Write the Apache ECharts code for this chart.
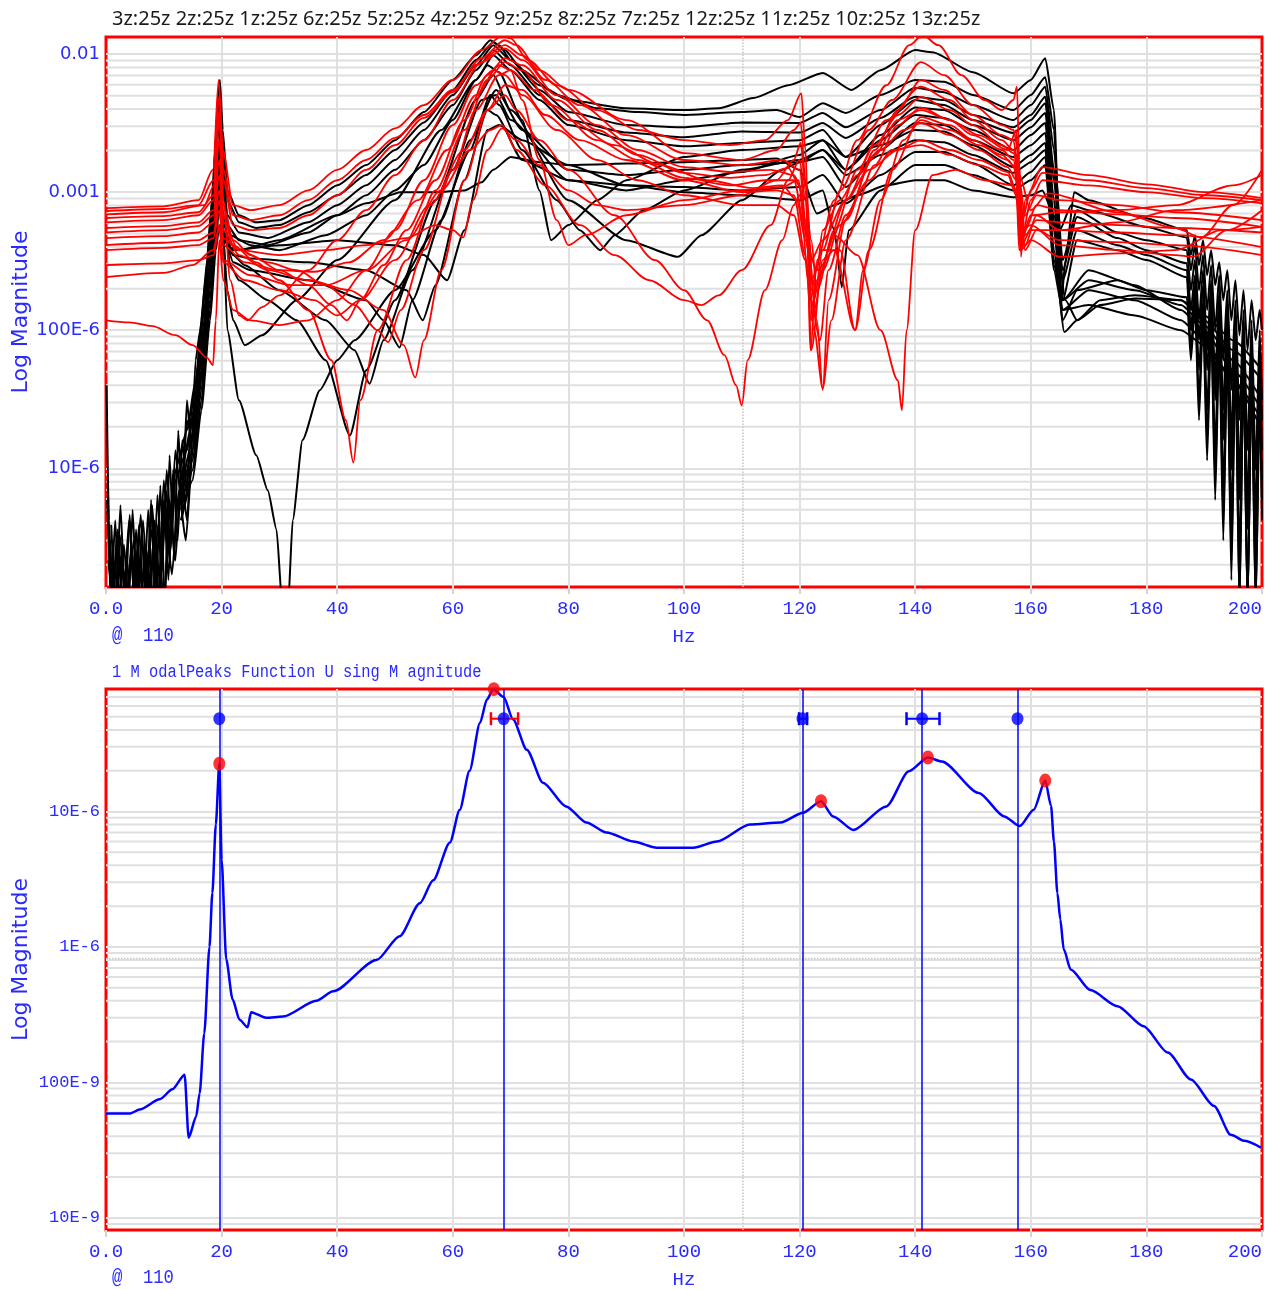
<!DOCTYPE html>
<html><head><meta charset="utf-8">
<script src="https://cdn.jsdelivr.net/npm/echarts@6/dist/echarts.min.js"></script>
<style>html,body{margin:0;padding:0;background:#fff}#c{width:1275px;height:1290px}</style>
</head><body><div id="c"></div>
<script>
// ---------- categories / tick labels ----------
const responseLabels = ['3z:25z','2z:25z','1z:25z','6z:25z','5z:25z','4z:25z','9z:25z','8z:25z','7z:25z','12z:25z','11z:25z','10z:25z','13z:25z'];
const topDecades = [1e-5, 1e-4, 1e-3, 1e-2];
const topDecadeLabels = ['10E-6', '100E-6', '0.001', '0.01'];
const bottomDecades = [1e-8, 1e-7, 1e-6, 1e-5];
const bottomDecadeLabels = ['10E-9', '100E-9', '1E-6', '10E-6'];
const cursorHz = 110.2;
const bottomRefLevel = 8.2e-7;

// ---------- measured FRFs (black) ----------
const m01 = [[0.3,8.2e-6],[0.8,1e-6],[1.6,4.2e-6],[2.3,1e-6],[3.1,2.8e-6],[3.9,1e-6],[4.6,5.0e-6],[5.4,1e-6],[6.2,3.3e-6],[7,1e-6],[7.8,5.9e-6],[8.6,1e-6],[9.4,7.5e-6],[10.2,1e-6],[11,1.24e-5],[11.8,2.15e-6],[12.5,1.88e-5],[13.2,5.0e-6],[14,3.11e-5],[14.8,1.35e-5],[15.5,6.06e-5],[16.3,1.0e-4],[17.2,2.3e-4],[18.2,7.4e-4],[18.9,2.02e-3],[19.4,5.05e-3],[19.7,6.5e-3],[20.2,2.82e-3],[21,1.03e-3],[23,6.8e-4],[26,6.05e-4],[30,6.27e-4],[35,8.05e-4],[40,1.12e-3],[45,1.57e-3],[50,2.38e-3],[55,3.8e-3],[60,6.5e-3],[64,9.8e-3],[66.5,1.26e-2],[68,1.16e-2],[70,9.05e-3],[75,5.95e-3],[80,4.65e-3],[90,4.05e-3],[100,3.93e-3],[106,4.05e-3],[112,4.8e-3],[118,5.95e-3],[124,7.3e-3],[129,5.5e-3],[134,7.65e-3],[140,1.07e-2],[143,1.03e-2],[150,7.4e-3],[157,5.2e-3],[160,6.5e-3],[162.5,9.35e-3],[164,3.93e-3],[165.3,1.65e-4],[166,3.22e-4],[167.5,1.0e-3],[170,8.75e-4],[179,6.6e-4],[187,5.3e-4],[187.7,3.5e-4],[188.4,4.88e-4],[189.1,2.96e-4],[189.8,4.49e-4],[190.5,2.5e-4],[191.2,3.8e-4],[191.9,2.12e-4],[192.6,3.1e-4],[193.3,1.65e-4],[194,2.72e-4],[194.7,1.18e-4],[195.4,2.3e-4],[196.1,9.2e-5],[196.8,1.95e-4],[197.5,7.16e-5],[198.2,1.65e-4],[198.9,8.46e-5],[199.6,1.4e-4],[200,1.0e-4]];
const m02 = [[0.1,4.0e-5],[0.5,4.2e-6],[1.2,1e-6],[2,3.0e-6],[2.8,1e-6],[3.6,2.15e-6],[4.4,1e-6],[5.2,3.6e-6],[6,1e-6],[6.8,2.8e-6],[7.6,1e-6],[8.4,4.2e-6],[9.2,1e-6],[10,5.9e-6],[10.8,1.55e-6],[11.6,9.7e-6],[12.4,3.0e-6],[13.2,1.6e-5],[14,6.9e-6],[14.8,2.63e-5],[15.6,4.34e-5],[16.5,1.18e-4],[17.5,3.22e-4],[18.5,1.03e-3],[19.2,3.33e-3],[19.6,5.5e-3],[20.1,2.38e-3],[21,8.75e-4],[23,6.05e-4],[26,5.5e-4],[30,5.77e-4],[35,7.15e-4],[40,9.5e-4],[45,1.33e-3],[50,2.02e-3],[55,3.2e-3],[60,5.5e-3],[64,9.05e-3],[67,1.22e-2],[69,1.07e-2],[72,7.65e-3],[78,5.05e-3],[85,4.05e-3],[92,3.8e-3],[100,3.62e-3],[110,3.8e-3],[116,3.93e-3],[120,3.5e-3],[124,4.4e-3],[128,3.75e-3],[134,5.05e-3],[140,6.5e-3],[145,6.3e-3],[150,5.05e-3],[157,3.93e-3],[160,5.05e-3],[162.5,6.8e-3],[164,2.82e-3],[165,5.3e-4],[167,8.05e-4],[170,7.4e-4],[180,5.6e-4],[187,4.7e-4],[187.7,2.72e-4],[188.4,4.13e-4],[189.1,1.95e-4],[189.8,3.5e-4],[190.5,1.4e-4],[191.2,2.96e-4],[191.9,1.0e-4],[192.6,2.5e-4],[193.3,6.06e-5],[194,1.95e-4],[194.7,3.68e-5],[195.4,1.65e-4],[196.1,2.23e-5],[196.8,1.4e-4],[197.5,1.35e-5],[198.2,1.18e-4],[198.9,9.7e-6],[199.6,1.0e-4],[200,3.11e-5]];
const m03 = [[0.4,2.15e-6],[1.4,1e-6],[2.6,2.3e-6],[3.6,1e-6],[4.8,3.0e-6],[5.8,1e-6],[7,2.55e-6],[8,1e-6],[9,3.9e-6],[10,1e-6],[11,5.9e-6],[12,2.15e-6],[13,9.7e-6],[14,4.2e-6],[15,1.88e-5],[16,4.34e-5],[17,1.18e-4],[18,3.8e-4],[18.8,1.22e-3],[19.5,3.93e-3],[20.1,1.71e-3],[21,6.8e-4],[23,5.1e-4],[28,4.65e-4],[35,6.05e-4],[40,8.05e-4],[45,1.12e-3],[50,1.71e-3],[55,2.82e-3],[60,5.05e-3],[64,8.3e-3],[67,1.16e-2],[70,9.05e-3],[75,5.5e-3],[80,3.8e-3],[90,3.06e-3],[100,2.95e-3],[110,3.2e-3],[120,3.17e-3],[124,3.75e-3],[128,2.95e-3],[134,3.93e-3],[140,5.7e-3],[145,5.3e-3],[150,4.27e-3],[157,3.33e-3],[160,4.27e-3],[162.5,5.8e-3],[164,2.02e-3],[165.5,3.22e-4],[168,7.4e-4],[175,5.1e-4],[180,4.49e-4],[187,3.8e-4],[187.7,1.95e-4],[188.4,3.22e-4],[189.1,1.18e-4],[189.8,2.72e-4],[190.5,7.16e-5],[191.2,2.3e-4],[191.9,4.34e-5],[192.6,1.95e-4],[193.3,2.63e-5],[194,1.65e-4],[194.7,1.6e-5],[195.4,1.4e-4],[196.1,8.2e-6],[196.8,1.18e-4],[197.5,5.0e-6],[198.2,1.0e-4],[198.9,4.2e-6],[199.6,8.46e-5],[200,2.23e-5]];
const m04 = [[0.6,3.0e-6],[1.8,1e-6],[3,1.83e-6],[4.2,1e-6],[5.4,2.55e-6],[6.6,1e-6],[7.8,3.6e-6],[9,1e-6],[10.2,5.0e-6],[11.4,1.7e-6],[12.6,6.9e-6],[13.8,3.0e-6],[15,1.35e-5],[16,3.11e-5],[17,8.46e-5],[18,2.72e-4],[18.8,8.75e-4],[19.5,3.33e-3],[20.1,1.33e-3],[21,5.77e-4],[23,4.49e-4],[28,4.13e-4],[35,5.1e-4],[40,6.8e-4],[45,9.5e-4],[50,1.45e-3],[55,2.38e-3],[60,4.27e-3],[64,7.65e-3],[67,1.07e-2],[70,8.3e-3],[75,5.05e-3],[80,3.33e-3],[90,2.7e-3],[100,2.5e-3],[110,2.75e-3],[120,2.7e-3],[124,3.17e-3],[128,2.47e-3],[134,3.45e-3],[140,4.9e-3],[145,4.65e-3],[150,3.62e-3],[157,2.95e-3],[160,3.62e-3],[162.5,4.9e-3],[164,1.45e-3],[165.5,2.72e-4],[168,6.6e-4],[175,4.65e-4],[180,3.8e-4],[187,3.05e-4],[187.7,1.4e-4],[188.4,2.5e-4],[189.1,8.46e-5],[189.8,2.12e-4],[190.5,5.13e-5],[191.2,1.79e-4],[191.9,3.11e-5],[192.6,1.52e-4],[193.3,1.6e-5],[194,1.28e-4],[194.7,9.7e-6],[195.4,1.09e-4],[196.1,5.9e-6],[196.8,9.2e-5],[197.5,3.6e-6],[198.2,7.79e-5],[198.9,2.15e-6],[199.6,6.06e-5],[200,1.35e-5]];
const m05 = [[0.9,3.9e-6],[1.7,1e-6],[2.5,5.4e-6],[3.3,1e-6],[4.1,4.6e-6],[4.9,1e-6],[5.7,3.9e-6],[6.5,1e-6],[7.3,5.0e-6],[8.1,1e-6],[8.9,6.4e-6],[9.7,1.8e-6],[10.5,9.7e-6],[11.3,3.3e-6],[12,8.2e-6],[14,1.35e-5],[15.5,3.11e-5],[17,1.0e-4],[18.2,3.22e-4],[19,8.75e-4],[19.6,2.38e-3],[20.2,1.03e-3],[21.5,4.88e-4],[25,4.13e-4],[30,3.8e-4],[38,4.88e-4],[45,6.8e-4],[50,1.03e-3],[55,1.57e-3],[60,3.33e-3],[64,6.5e-3],[67,9.8e-3],[70,7.65e-3],[75,4.65e-3],[80,3.06e-3],[90,2.38e-3],[100,2.15e-3],[110,2.27e-3],[120,2.38e-3],[124,2.82e-3],[128,1.8e-3],[134,3.06e-3],[140,4.65e-3],[145,4.27e-3],[150,3.33e-3],[157,2.68e-3],[160,3.33e-3],[162.5,4.4e-3],[164,1.22e-3],[165.5,2.3e-4],[168,5.3e-4],[175,4.13e-4],[180,3.5e-4],[187,2.72e-4],[187.7,1.0e-4],[188.4,2.12e-4],[189.1,5.13e-5],[189.8,1.65e-4],[190.5,2.63e-5],[191.2,1.4e-4],[191.9,1.35e-5],[192.6,1.18e-4],[193.3,6.9e-6],[194,1.0e-4],[194.7,4.2e-6],[195.4,8.46e-5],[196.1,2.15e-6],[196.8,7.16e-5],[197.5,1e-6],[198.2,6.06e-5],[198.9,1.55e-6],[199.6,4.34e-5],[200,8.2e-6]];
const m06 = [[0.2,5.9e-6],[1,1e-6],[2,3.6e-6],[3,1e-6],[4,4.2e-6],[5,1e-6],[6,4.6e-6],[7,1e-6],[8,5.4e-6],[9,1e-6],[10,8.2e-6],[11,2.15e-6],[12,1.35e-5],[13,5.9e-6],[14,2.23e-5],[15,1.6e-5],[16,6.06e-5],[17,1.65e-4],[18,4.49e-4],[19,1.22e-3],[19.6,2.02e-3],[20.2,5.3e-4],[21,1.95e-4],[22,1.18e-4],[24,7.79e-5],[27,9.2e-5],[33,1.65e-4],[40,3.22e-4],[50,8.75e-4],[58,2.82e-3],[64,6.5e-3],[66,8.3e-3],[68,7.4e-3],[72,3.33e-3],[75,1.03e-3],[77,4.49e-4],[80,5.77e-4],[85,8.75e-4],[90,1.22e-3],[100,1.8e-3],[110,2.02e-3],[120,2.15e-3],[124,2.38e-3],[128,1.45e-3],[134,2.59e-3],[140,4.1e-3],[145,3.93e-3],[150,3.06e-3],[157,2.38e-3],[160,2.95e-3],[162.5,3.75e-3],[164,8.75e-4],[165.5,1.65e-4],[168,4.49e-4],[175,3.8e-4],[180,3.22e-4],[187,2.42e-4],[187.7,7.16e-5],[188.4,1.79e-4],[189.1,3.11e-5],[189.8,1.52e-4],[190.5,1.6e-5],[191.2,1.28e-4],[191.9,8.2e-6],[192.6,1.09e-4],[193.3,4.2e-6],[194,8.46e-5],[194.7,2.15e-6],[195.4,7.16e-5],[196.1,1e-6],[196.8,6.06e-5],[197.5,1e-6],[198.2,5.13e-5],[198.9,1e-6],[199.6,3.68e-5],[200,5.9e-6]];
const m07 = [[0.7,2.2e-6],[1.5,1e-6],[2.4,3.3e-6],[3.4,1e-6],[4.4,2.6e-6],[5.4,1e-6],[6.4,4.2e-6],[7.4,1e-6],[8.4,3.6e-6],[9.4,1.4e-6],[10.4,6.9e-6],[11.2,2.6e-6],[12,9.7e-6],[14,1.88e-5],[15.5,4.34e-5],[17,1.4e-4],[18.3,5.3e-4],[19,1.71e-3],[19.6,4.65e-3],[20.2,6.27e-4],[21,1.0e-4],[23,3.11e-5],[26,1.24e-5],[28,6.9e-6],[29.5,3.6e-6],[30.5,1e-6],[31.5,1e-6],[32.3,4.2e-6],[34,1.6e-5],[37,3.68e-5],[40,6.06e-5],[43,8.46e-5],[50,1.95e-4],[57,5.3e-4],[63,2.02e-3],[66.5,5.05e-3],[68,4.27e-3],[72,2.02e-3],[78,8.75e-4],[82,5.3e-4],[85.5,3.8e-4],[88,4.88e-4],[93,7.4e-4],[100,1.03e-3],[110,1.45e-3],[120,1.71e-3],[124,2.02e-3],[128,1.45e-3],[134,2.38e-3],[140,3.62e-3],[145,3.45e-3],[150,2.82e-3],[157,2.02e-3],[160,2.59e-3],[162.5,3.17e-3],[164,6.27e-4],[165.5,1.18e-4],[168,1.95e-4],[175,2.3e-4],[180,1.95e-4],[187,1.73e-4],[187.7,6.06e-5],[188.4,1.52e-4],[189.1,2.23e-5],[189.8,1.28e-4],[190.5,1.14e-5],[191.2,1.09e-4],[191.9,5.9e-6],[192.6,8.46e-5],[193.3,3.0e-6],[194,7.16e-5],[194.7,1.55e-6],[195.4,6.06e-5],[196.1,1e-6],[196.8,5.13e-5],[197.5,1e-6],[198.2,4.34e-5],[198.9,1e-6],[199.6,3.11e-5],[200,4.2e-6]];
const m08 = [[13,8.2e-6],[15,2.23e-5],[16.5,7.16e-5],[18,3.22e-4],[19,8.75e-4],[19.6,1.71e-3],[20.2,7.4e-4],[21.5,2.96e-4],[23,2.3e-4],[28,1.65e-4],[33,1.18e-4],[38,6.06e-5],[42.2,1.73e-5],[45,5.13e-5],[50,1.65e-4],[57,8.75e-4],[64,4.65e-3],[67,7.05e-3],[70,3.93e-3],[80,8.75e-4],[90,4.49e-4],[99,3.4e-4],[103,4.88e-4],[110,8.75e-4],[117,1.45e-3],[120,1.65e-3],[124,1.8e-3],[128,1.09e-3],[134,2.02e-3],[140,3.17e-3],[145,3.06e-3],[150,2.38e-3],[157,1.8e-3],[160,2.19e-3],[162.5,2.68e-3],[164,5.3e-4],[165.5,1.4e-4],[170,1.52e-4],[178,1.28e-4],[186,1.0e-4],[190,7.79e-5],[195,4.34e-5],[200,2.23e-5]];
const m09 = [[13,6.9e-6],[15,1.6e-5],[16.5,5.13e-5],[18,2.3e-4],[19,7.4e-4],[19.6,1.45e-3],[20.2,6.27e-4],[22,3.5e-4],[24,2.96e-4],[30,1.95e-4],[38,1.18e-4],[43,7.16e-5],[45.6,4.1e-5],[48,8.46e-5],[53,2.72e-4],[60,1.45e-3],[65,4.65e-3],[67.5,5.05e-3],[70,3.33e-3],[80,1.22e-3],[90,1.03e-3],[100,1.22e-3],[110,1.4e-3],[120,1.86e-3],[124,2.38e-3],[128,1.8e-3],[134,2.19e-3],[140,2.82e-3],[145,2.75e-3],[150,2.19e-3],[157,1.52e-3],[160,1.86e-3],[162.5,2.27e-3],[164,3.8e-4],[165.8,9.7e-5],[168,1.18e-4],[172,1.52e-4],[178,1.7e-4],[186,1.65e-4],[190,1.18e-4],[195,7.16e-5],[200,4.34e-5]];
const m10 = [[13,5.9e-6],[15,1.35e-5],[16.5,4.34e-5],[18,1.95e-4],[19,6.27e-4],[19.6,1.22e-3],[20.2,5.3e-4],[22,3.1e-4],[25,2.72e-4],[35,2.3e-4],[45,1.65e-4],[48,1.18e-4],[50.8,7.5e-5],[53,1.65e-4],[58,6.27e-4],[63,2.38e-3],[67.5,5.5e-3],[72,2.82e-3],[80,1.45e-3],[90,1.33e-3],[100,1.45e-3],[110,1.57e-3],[120,1.65e-3],[124,2.02e-3],[128,1.33e-3],[134,1.86e-3],[140,2.38e-3],[145,2.3e-3],[150,1.86e-3],[157,1.38e-3],[160,1.65e-3],[162.5,2.02e-3],[164,3.22e-4],[165.5,1.65e-4],[170,2.72e-4],[178,2.12e-4],[186,1.4e-4],[190,1.0e-4],[195,5.13e-5],[200,2.63e-5]];
const m11 = [[13,5.0e-6],[15,1.14e-5],[16.5,3.68e-5],[18,1.65e-4],[19,5.3e-4],[19.6,9.5e-4],[20.2,4.88e-4],[22,3.5e-4],[25,3.3e-4],[35,3.1e-4],[45,2.72e-4],[52,1.95e-4],[54.8,1.18e-4],[57,2.12e-4],[62,1.22e-3],[66,3.93e-3],[67.5,3.62e-3],[72,1.71e-3],[80,1.22e-3],[90,1.12e-3],[100,1.09e-3],[110,1.03e-3],[120,1.09e-3],[124,1.33e-3],[128,8.3e-4],[134,1.33e-3],[140,1.95e-3],[145,1.95e-3],[150,1.62e-3],[157,1.12e-3],[160,1.4e-3],[162.5,1.8e-3],[164,2.72e-4],[165.5,1.4e-4],[170,1.95e-4],[178,1.65e-4],[186,1.18e-4],[190,8.46e-5],[195,4.34e-5],[200,1.88e-5]];
const m12 = [[13,4.2e-6],[15,9.7e-6],[16.5,3.11e-5],[18,1.4e-4],[19,4.49e-4],[19.6,8.05e-4],[20.2,4.49e-4],[22,3.8e-4],[30,4.13e-4],[40,4.49e-4],[50,4.13e-4],[55,3.5e-4],[59,2.3e-4],[62,5.3e-4],[66,2.82e-3],[68,3.06e-3],[72,2.38e-3],[80,1.57e-3],[90,1.12e-3],[100,1.0e-3],[110,9.5e-4],[120,8.75e-4],[124,1.03e-3],[126,5.3e-4],[127.3,2.05e-4],[128.5,5.3e-4],[134,1.03e-3],[140,1.57e-3],[145,1.57e-3],[150,1.33e-3],[157,1.03e-3],[160,1.22e-3],[162.5,1.57e-3],[164,2.96e-4],[165.5,1.65e-4],[170,2.3e-4],[178,1.95e-4],[186,1.52e-4],[190,1.09e-4],[195,6.06e-5],[200,3.11e-5]];
const m13 = [[13,4.2e-6],[15,8.2e-6],[16.5,2.63e-5],[18,1.18e-4],[19,3.8e-4],[19.6,5.77e-4],[20.2,4.13e-4],[23,3.8e-4],[30,4.49e-4],[40,6.8e-4],[45,8.3e-4],[51,1.0e-3],[57,1.0e-3],[62,1.03e-3],[65,1.18e-3],[67,1.45e-3],[70,1.8e-3],[75,1.65e-3],[80,1.57e-3],[100,1.65e-3],[110,1.71e-3],[116,1.75e-3],[120,1.45e-3],[123,7.0e-4],[126,8.05e-4],[130,9.5e-4],[135,1.12e-3],[140,1.22e-3],[145,1.22e-3],[150,1.03e-3],[157,9.2e-4],[160,9.5e-4],[162,1.03e-3],[164,6.8e-4],[166,1.65e-4],[168,1.18e-4],[172,1.65e-4],[178,1.79e-4],[186,1.65e-4],[190,1.28e-4],[195,8.46e-5],[200,5.13e-5]];

// ---------- synthesized FRFs (red) ----------
const s01 = [[0,7.65e-4],[10,7.9e-4],[16,8.75e-4],[18.5,1.45e-3],[19.5,6.5e-3],[20.2,2.02e-3],[22,8.05e-4],[25,7.4e-4],[30,8.05e-4],[35,1.03e-3],[40,1.45e-3],[45,2.02e-3],[50,2.9e-3],[55,4.27e-3],[60,6.5e-3],[65,1.07e-2],[68.5,1.35e-2],[70,1.3e-2],[73,9.05e-3],[78,5.95e-3],[85,3.93e-3],[92,2.82e-3],[100,2.38e-3],[108,2.19e-3],[114,2.38e-3],[118,3.33e-3],[120.3,5.2e-3],[121,2.02e-3],[121.9,7.16e-5],[123,3.22e-4],[126,8.75e-4],[130,2.38e-3],[135,5.95e-3],[139,1.16e-2],[141.3,1.37e-2],[144,1.16e-2],[148,7.05e-3],[152,4.65e-3],[155,3.93e-3],[157,4.65e-3],[157.6,5.8e-3],[158,1.71e-3],[158.3,3.4e-4],[159,8.75e-4],[162,1.52e-3],[170,1.33e-3],[180,1.14e-3],[190,1.0e-3],[200,9.05e-4]];
const s02 = [[0,7.3e-4],[10,7.55e-4],[16,8.05e-4],[18.6,1.22e-3],[19.6,5.05e-3],[20.3,1.45e-3],[22,6.8e-4],[25,6.27e-4],[30,6.8e-4],[35,8.75e-4],[40,1.22e-3],[45,1.71e-3],[50,2.47e-3],[55,3.62e-3],[60,5.5e-3],[65,9.35e-3],[69,1.26e-2],[71,1.16e-2],[75,7.65e-3],[80,5.5e-3],[90,3.33e-3],[100,1.92e-3],[110,1.71e-3],[116,2.02e-3],[119,2.82e-3],[120.2,3.17e-3],[121,1.22e-3],[122.5,1.65e-4],[124,3.8e-4],[127,1.03e-3],[132,2.82e-3],[136,4.65e-3],[141,8.75e-3],[145,7.05e-3],[150,4.27e-3],[155,3.06e-3],[157,2.82e-3],[157.8,2.02e-3],[158.5,6.27e-4],[160,1.03e-3],[162,1.38e-3],[170,1.22e-3],[180,1.07e-3],[190,9.5e-4],[200,8.75e-4]];
const s03 = [[0,6.9e-4],[10,7.15e-4],[17,8.05e-4],[18.7,1.12e-3],[19.6,3.93e-3],[20.3,1.22e-3],[22,5.77e-4],[25,5.3e-4],[30,5.5e-4],[35,6.8e-4],[40,9.5e-4],[45,1.45e-3],[50,2.19e-3],[55,3.45e-3],[60,5.3e-3],[64,8.3e-3],[69,1.16e-2],[72,9.8e-3],[76,6.5e-3],[82,4.27e-3],[90,2.59e-3],[100,1.71e-3],[110,1.57e-3],[117,1.71e-3],[120,1.45e-3],[121.5,3.8e-4],[123,1.18e-4],[124,3.68e-5],[125,1.65e-4],[128,6.27e-4],[133,2.02e-3],[137,3.93e-3],[141,6.5e-3],[145,5.5e-3],[150,3.62e-3],[155,2.59e-3],[157,2.38e-3],[157.8,1.45e-3],[158.4,4.49e-4],[160,8.75e-4],[162,1.22e-3],[170,1.12e-3],[180,1.0e-3],[190,9.05e-4],[200,8.3e-4]];
const s04 = [[0,6.5e-4],[10,6.7e-4],[16,7.15e-4],[18.6,9.5e-4],[19.6,3.33e-3],[20.3,8.75e-4],[21.5,2.3e-4],[23,1.28e-4],[24.5,1.18e-4],[27,1.47e-4],[30,1.79e-4],[35,2.72e-4],[40,4.49e-4],[45,7.4e-4],[50,1.33e-3],[55,2.38e-3],[60,4.65e-3],[65,8.75e-3],[69,1.1e-2],[72,9.05e-3],[78,5.05e-3],[85,3.06e-3],[92,2.02e-3],[100,1.52e-3],[108,1.4e-3],[115,1.45e-3],[119,1.33e-3],[121,8.75e-4],[122,4.49e-4],[123,1.95e-4],[126,5.3e-4],[130,1.45e-3],[135,3.33e-3],[141,5.8e-3],[146,4.65e-3],[150,3.33e-3],[155,2.38e-3],[157,2.02e-3],[158,1.33e-3],[160,7.4e-4],[163,9.8e-4],[175,7.15e-4],[185,5.5e-4],[189.5,4.7e-4],[195,8.05e-4],[200,1.45e-3]];
const s05 = [[0,6.05e-4],[10,6.27e-4],[16,6.8e-4],[18.6,8.75e-4],[19.6,2.38e-3],[20.3,8.05e-4],[22,4.49e-4],[25,3.5e-4],[30,2.72e-4],[35,2.12e-4],[39,1.52e-4],[41.7,1.18e-4],[44,1.65e-4],[48,2.96e-4],[52,5.3e-4],[57,1.22e-3],[62,3.33e-3],[66,7.05e-3],[69,9.35e-3],[72,8.3e-3],[78,4.65e-3],[85,2.82e-3],[92,1.86e-3],[100,1.38e-3],[108,1.27e-3],[114,1.33e-3],[118,1.5e-3],[120,1.12e-3],[121.5,2.3e-4],[122,7.16e-5],[124,3.22e-4],[128,8.75e-4],[133,2.19e-3],[137,3.62e-3],[141,4.9e-3],[146,3.93e-3],[150,3.06e-3],[155,2.19e-3],[157,1.92e-3],[158,1.22e-3],[159,6.8e-4],[161,9.5e-4],[165,8.75e-4],[175,8.05e-4],[185,7.15e-4],[200,6.27e-4]];
const s06 = [[0,5.5e-4],[10,5.67e-4],[16,6.05e-4],[18.6,7.4e-4],[19.6,1.71e-3],[20.3,6.8e-4],[22,4.13e-4],[26,3.1e-4],[30,2.3e-4],[35,1.4e-4],[39,6.06e-5],[41.5,2.23e-5],[42.8,1.1e-5],[44,3.11e-5],[47,1.0e-4],[52,3.22e-4],[57,1.03e-3],[62,2.82e-3],[66,6.5e-3],[69,8.75e-3],[72,7.65e-3],[77,4.27e-3],[85,2.38e-3],[92,1.71e-3],[100,1.27e-3],[108,1.12e-3],[114,1.22e-3],[119,1.22e-3],[121,5.3e-4],[122.5,1.0e-4],[124,3.8e-5],[125.5,1.18e-4],[128,4.49e-4],[133,1.57e-3],[137,3.06e-3],[141,4.1e-3],[146,3.33e-3],[150,2.59e-3],[155,2.02e-3],[157,1.71e-3],[158,1.03e-3],[159,5.3e-4],[161,8.05e-4],[165,7.4e-4],[175,6.9e-4],[185,6.5e-4],[200,5.6e-4]];
const s07 = [[0,5.1e-4],[10,5.3e-4],[16,5.67e-4],[18.6,6.8e-4],[19.6,1.33e-3],[20.3,6.05e-4],[23,3.8e-4],[28,3.1e-4],[33,2.72e-4],[38,2.12e-4],[43,1.52e-4],[47,1.0e-4],[48.8,8.2e-5],[51,1.4e-4],[55,3.8e-4],[60,1.45e-3],[64,3.93e-3],[68,7.05e-3],[70,7.65e-3],[74,5.5e-3],[80,3.33e-3],[88,2.19e-3],[96,1.57e-3],[104,1.22e-3],[112,1.07e-3],[117,1.12e-3],[119.5,8.75e-4],[121,4.49e-4],[123,2.72e-4],[126,3.8e-4],[129.6,1.0e-4],[132,3.8e-4],[136,1.45e-3],[141,3.5e-3],[146,3.06e-3],[150,2.38e-3],[155,1.86e-3],[157,1.57e-3],[158,8.75e-4],[159,4.13e-4],[161,6.8e-4],[165,5.3e-4],[175,5.1e-4],[185,4.88e-4],[200,4.0e-4]];
const s08 = [[0,4.65e-4],[10,4.8e-4],[16,5.1e-4],[18.6,6.05e-4],[19.6,1.03e-3],[20.3,5.3e-4],[23,3.5e-4],[28,2.72e-4],[35,2.3e-4],[42,1.95e-4],[48,1.4e-4],[51.5,7.79e-5],[53.5,4.55e-5],[55,8.46e-5],[58,2.72e-4],[62,1.22e-3],[66,3.93e-3],[69,5.95e-3],[72,5.5e-3],[76,3.62e-3],[82,2.38e-3],[90,1.71e-3],[100,1.22e-3],[110,1.0e-3],[116,1.03e-3],[119,9.5e-4],[121,3.5e-4],[122,1.18e-4],[123,2.3e-4],[126,4.88e-4],[130,3.5e-4],[134,1.0e-4],[137,4.34e-5],[137.7,2.63e-5],[138.5,1.0e-4],[140,5.3e-4],[143,1.33e-3],[147,1.45e-3],[152,1.22e-3],[157,1.12e-3],[158,7.4e-4],[159,3.8e-4],[161,5.3e-4],[165,4.49e-4],[175,4.35e-4],[185,4.13e-4],[200,3.5e-4]];
const s09 = [[0,4.13e-4],[10,4.3e-4],[16,4.49e-4],[18.6,5.1e-4],[19.6,8.75e-4],[20.3,4.65e-4],[23,3.8e-4],[30,3.5e-4],[38,3.8e-4],[45,4.13e-4],[52,4.65e-4],[57,5.77e-4],[60,5.3e-4],[61.8,4.7e-4],[63.5,8.75e-4],[66,2.02e-3],[68.5,2.9e-3],[71,2.38e-3],[75,1.57e-3],[80,1.03e-3],[85,8.05e-4],[90,7.4e-4],[100,8.05e-4],[110,9.5e-4],[116,1.22e-3],[119,1.71e-3],[120.2,2.27e-3],[121,1.03e-3],[122,1.65e-4],[123.5,8.46e-5],[125,2.72e-4],[128,6.8e-4],[133,1.86e-3],[137,3.33e-3],[141,3.93e-3],[146,3.33e-3],[151,2.59e-3],[156,2.02e-3],[157.5,2.82e-3],[158,8.75e-4],[159,4.88e-4],[161,6.27e-4],[165,6.05e-4],[175,5.77e-4],[185,5.5e-4],[200,5.1e-4]];
const s10 = [[0,3.8e-4],[10,3.95e-4],[16,4.13e-4],[18.6,4.65e-4],[19.6,7.4e-4],[20.3,4.13e-4],[24,3.1e-4],[30,2.72e-4],[36,2.65e-4],[42,3.1e-4],[48,4.49e-4],[54,8.75e-4],[59,2.02e-3],[64,5.05e-3],[68,8.3e-3],[70,7.65e-3],[72,4.65e-3],[75,1.71e-3],[78,6.27e-4],[80,4.13e-4],[83,4.88e-4],[90,6.8e-4],[100,8.75e-4],[110,1.03e-3],[117,1.09e-3],[119.8,1.22e-3],[121,5.3e-4],[122,2.3e-4],[124,3.8e-4],[127,3.8e-4],[129.6,1.0e-4],[131,2.72e-4],[134,8.75e-4],[138,2.38e-3],[141,3.33e-3],[146,2.82e-3],[151,2.19e-3],[156,1.71e-3],[157.5,1.45e-3],[158.2,5.3e-4],[160,5.77e-4],[165,4.13e-4],[175,3.8e-4],[185,3.5e-4],[188,3.4e-4],[194,5.3e-4],[200,7.4e-4]];
const s11 = [[0,2.96e-4],[10,3.05e-4],[16,3.22e-4],[18.6,3.5e-4],[19.6,5.77e-4],[20.3,3.22e-4],[25,2.5e-4],[32,2.12e-4],[38,2.12e-4],[45,2.72e-4],[52,4.49e-4],[58,1.03e-3],[63,2.02e-3],[66.5,2.82e-3],[68.5,3.06e-3],[71,2.02e-3],[76,1.12e-3],[82,5.77e-4],[88,3.5e-4],[94,2.3e-4],[100,1.65e-4],[103,1.52e-4],[106,1.79e-4],[110,2.72e-4],[115,5.77e-4],[118,1.22e-3],[120,1.71e-3],[121,8.75e-4],[122,1.95e-4],[123,2.72e-4],[124,5.3e-4],[127,8.75e-4],[130,1.33e-3],[134,2.02e-3],[138,2.82e-3],[141,3.17e-3],[146,2.59e-3],[151,2.02e-3],[156,1.52e-3],[157.5,1.22e-3],[158.2,3.8e-4],[160,4.49e-4],[165,3.4e-4],[175,3.6e-4],[185,3.8e-4],[193,5.3e-4],[200,5.6e-4]];
const s12 = [[0,2.42e-4],[10,2.6e-4],[15,2.96e-4],[18.5,3.8e-4],[19.6,5.5e-4],[20.3,3.1e-4],[24,2.3e-4],[30,1.95e-4],[36,1.65e-4],[40,1.28e-4],[44,1.65e-4],[50,3.22e-4],[56,8.05e-4],[62,2.02e-3],[66,3.93e-3],[69,5.05e-3],[71,3.93e-3],[75,2.38e-3],[80,1.45e-3],[88,6.8e-4],[95,3.22e-4],[100,1.95e-4],[104,1.18e-4],[107,6.59e-5],[109,4.0e-5],[110,2.86e-5],[111,6.06e-5],[114,1.95e-4],[117,4.49e-4],[119,8.05e-4],[120,9.5e-4],[121,6.27e-4],[122,3.22e-4],[124,4.49e-4],[128,8.75e-4],[132,1.45e-3],[137,2.02e-3],[141,2.38e-3],[146,2.02e-3],[151,1.71e-3],[156,1.4e-3],[157.5,1.03e-3],[158,3.8e-4],[160,5.3e-4],[165,5.3e-4],[175,6.05e-4],[185,7.4e-4],[200,8.75e-4]];
const s13 = [[0,1.18e-4],[4,1.14e-4],[8,1.07e-4],[12,9.2e-5],[15,7.79e-5],[17.5,6.3e-5],[18.5,5.58e-5],[19,1.18e-4],[19.6,4.49e-4],[20.3,2.3e-4],[22,1.4e-4],[25,1.18e-4],[30,1.09e-4],[35,1.18e-4],[40,1.65e-4],[45,2.72e-4],[50,5.3e-4],[55,1.22e-3],[60,3.06e-3],[64,5.95e-3],[67,7.65e-3],[69,7.05e-3],[72,5.05e-3],[78,2.82e-3],[85,1.71e-3],[92,1.22e-3],[100,9.5e-4],[110,8.05e-4],[116,8.05e-4],[119,6.8e-4],[121,3.22e-4],[122.5,1.4e-4],[124,2.72e-4],[127,5.77e-4],[132,1.22e-3],[136,2.02e-3],[141,2.19e-3],[146,1.86e-3],[151,1.57e-3],[156,1.33e-3],[157.5,9.5e-4],[158.2,4.13e-4],[160,6.8e-4],[165,7.15e-4],[175,7.4e-4],[185,8.05e-4],[195,1.12e-3],[200,1.33e-3]];

// ---------- modal peaks function (bottom, blue) ----------
const modalPeaksFn = [[0,5.9e-8],[4.2,5.9e-8],[5.8,6.3e-8],[9.3,7.5e-8],[11.5,8.9e-8],[13.6,1.14e-7],[14.3,3.9e-8],[15.6,5.6e-8],[16.2,8.3e-8],[17,2.3e-7],[17.9,1.0e-6],[18.4,2.5e-6],[19,8e-6],[19.6,2.25e-5],[20,4.4e-6],[20.8,8.1e-7],[21.9,4.1e-7],[23.1,2.9e-7],[24.5,2.55e-7],[25.1,3.3e-7],[27.7,3.0e-7],[30.6,3.06e-7],[36.4,4.0e-7],[39.3,4.7e-7],[46.8,8.0e-7],[50.8,1.2e-6],[54.3,2.1e-6],[56.6,3.1e-6],[59.5,5.9e-6],[61.2,1.03e-5],[62.9,2.0e-5],[64.7,4.5e-5],[65.9,6.7e-5],[67,8.0e-5],[68.8,7.0e-5],[70.4,4.8e-5],[72.8,2.86e-5],[75.6,1.63e-5],[79.6,1.09e-5],[83.1,8.3e-6],[86.6,7.0e-6],[91.2,6.0e-6],[95.3,5.4e-6],[101.6,5.4e-6],[105.7,6.0e-6],[111.4,8.0e-6],[116.7,8.3e-6],[120.6,9.8e-6],[123.7,1.19e-5],[125.8,9.2e-6],[129.3,7.3e-6],[135,1.09e-5],[138.9,1.98e-5],[142.2,2.5e-5],[144.6,2.34e-5],[151,1.37e-5],[155.4,9.2e-6],[158.1,7.8e-6],[160.5,1.03e-5],[162.5,1.69e-5],[163.5,1.1e-5],[164,6e-6],[164.6,2.5e-6],[165.1,1.6e-6],[165.7,9.6e-7],[166.9,6.8e-7],[170.3,4.8e-7],[175,3.65e-7],[179.5,2.6e-7],[183.7,1.66e-7],[187.7,1.05e-7],[191.7,6.7e-8],[194.6,4.1e-8],[197,3.7e-8],[199.8,3.3e-8]];
const modeFreqs = [19.6, 68.8, 120.5, 141.2, 157.7];
const modeMarkerLevel = 4.84e-5;
const modeErrLow  = [null, 66.6, 119.9, 138.5, null];
const modeErrHigh = [null, 71.3, 121.3, 144.2, null];
const peakFreqs = [19.6, 67.1, 123.7, 142.2, 162.5];
const peakMags  = [2.25e-5, 8.0e-5, 1.19e-5, 2.5e-5, 1.69e-5];

// ---------- chart ----------
const TOP_MIN = 1.38e-6, TOP_MAX = 1.33e-2;
const BOT_MIN = 8.13e-9, BOT_MAX = 8.02e-5;
const BLUE_TXT = '#2a2aff';
const GRID_GRAY = '#e0e0e0';

function decadeLabel(decs, labs) {
  return function (v) {
    for (let i = 0; i < decs.length; i++) {
      if (Math.abs(Math.log10(v) - Math.log10(decs[i])) < 0.02) return labs[i];
    }
    return '';
  };
}
function minorValues(min, max) {
  const out = [];
  for (let e = Math.floor(Math.log10(min)); e <= Math.ceil(Math.log10(max)); e++) {
    for (let m = 2; m <= 9; m++) {
      const v = m * Math.pow(10, e);
      if (v > min * 1.01 && v < max * 0.99) out.push(v);
    }
  }
  return out;
}
function hLine(gi, v, style) {
  return { type: 'line', xAxisIndex: gi, yAxisIndex: gi, data: [[0, v], [200, v]],
    showSymbol: false, silent: true, z: 1, lineStyle: style };
}

const measured = [m01,m02,m03,m04,m05,m06,m07,m08,m09,m10,m11,m12,m13];
const synthesized = [s01,s02,s03,s04,s05,s06,s07,s08,s09,s10,s11,s12,s13];

const series = [];
// minor log grid (top) + cursor
minorValues(TOP_MIN, TOP_MAX).forEach(v => series.push(hLine(0, v, { color: GRID_GRAY, width: 2 })));
series.push({
  type: 'line', xAxisIndex: 0, yAxisIndex: 0, data: [[cursorHz, TOP_MIN], [cursorHz, TOP_MAX]],
  showSymbol: false, silent: true, z: 1, lineStyle: { color: '#c4c4c4', width: 1.5, type: 'dotted' }
});
measured.forEach(d => series.push({
  type: 'line', xAxisIndex: 0, yAxisIndex: 0, data: d, showSymbol: false, silent: true, z: 2,
  smooth: 0.2, smoothMonotone: 'x',
  lineStyle: { color: '#000000', width: 2 }
}));
synthesized.forEach(d => series.push({
  type: 'line', xAxisIndex: 0, yAxisIndex: 0, data: d, showSymbol: false, silent: true, z: 3,
  smooth: 0.3, smoothMonotone: 'x',
  lineStyle: { color: '#ff0000', width: 1.8 }
}));
// minor log grid (bottom) + cursor + reference line
minorValues(BOT_MIN, BOT_MAX).forEach(v => series.push(hLine(1, v, { color: GRID_GRAY, width: 2 })));
series.push(hLine(1, bottomRefLevel, { color: '#c4c4c4', width: 1.5, type: 'dotted' }));
series.push({
  type: 'line', xAxisIndex: 1, yAxisIndex: 1, data: [[cursorHz, BOT_MIN], [cursorHz, BOT_MAX]],
  showSymbol: false, silent: true, z: 1, lineStyle: { color: '#c4c4c4', width: 1.5, type: 'dotted' }
});
series.push({
  type: 'line', xAxisIndex: 1, yAxisIndex: 1, data: modalPeaksFn, showSymbol: false, silent: true, z: 3,
  smooth: 0.25, smoothMonotone: 'x',
  lineStyle: { color: '#0000ff', width: 2.5 },
  markLine: {
    silent: true, z: 3, symbol: 'none', label: { show: false }, animation: false,
    lineStyle: { color: '#0000ff', width: 1.5, type: 'solid' },
    data: modeFreqs.map(f => ({ xAxis: f }))
  }
});
modeFreqs.forEach((f, i) => {
  if (modeErrLow[i] == null) return;
  const col = i === 1 ? '#ff0000' : '#0000ff';
  series.push({
    type: 'line', xAxisIndex: 1, yAxisIndex: 1, silent: true, z: 4,
    data: [[modeErrLow[i], modeMarkerLevel], [modeErrHigh[i], modeMarkerLevel]],
    showSymbol: true, symbol: 'rect', symbolSize: [2.5, 13],
    itemStyle: { color: col }, lineStyle: { color: col, width: 2 }
  });
});
series.push({
  type: 'scatter', xAxisIndex: 1, yAxisIndex: 1, silent: true, z: 5,
  data: modeFreqs.map(f => [f, modeMarkerLevel]),
  symbol: 'circle', symbolSize: [12, 13], itemStyle: { color: '#0000ff' }
});
series.push({
  type: 'scatter', xAxisIndex: 1, yAxisIndex: 1, silent: true, z: 6,
  data: peakFreqs.map((f, i) => [f, peakMags[i]]),
  symbol: 'circle', symbolSize: [12, 14], itemStyle: { color: '#ff0000' }
});

function xAxisCfg(gi) {
  return {
    type: 'value', gridIndex: gi, min: 0, max: 200, interval: 20,
    name: 'Hz', nameLocation: 'middle', nameGap: 40, nameMoveOverlap: false,
    nameTextStyle: { color: BLUE_TXT, fontFamily: 'Liberation Mono', fontSize: 19 },
    axisLine: { show: false },
    axisTick: { show: true, length: 7, lineStyle: { color: '#d4d4d4', width: 2 } },
    axisLabel: {
      color: BLUE_TXT, fontFamily: 'Liberation Mono', fontSize: 19, margin: 12,
      alignMaxLabel: 'right',
      formatter: v => (v === 0 ? '0.0' : String(v))
    },
    splitLine: { show: true, showMinLine: false, showMaxLine: false, lineStyle: { color: GRID_GRAY, width: 2 } }
  };
}
function yAxisCfg(gi, min, max, decs, labs, font, fs) {
  return {
    type: 'log', logBase: 10, gridIndex: gi, min: min, max: max,
    name: 'Log Magnitude', nameLocation: 'middle', nameGap: 74, nameRotate: 90, nameMoveOverlap: false,
    nameTextStyle: { color: BLUE_TXT, fontFamily: 'DejaVu Sans', fontSize: 22 },
    axisLine: { show: false }, axisTick: { show: false },
    axisLabel: {
      color: BLUE_TXT, fontFamily: font, fontSize: fs, margin: 6,
      showMinLabel: false, showMaxLabel: false,
      formatter: decadeLabel(decs, labs)
    },
    splitLine: { show: true, showMinLine: false, showMaxLine: false, lineStyle: { color: GRID_GRAY, width: 2 } }
  };
}

const chart = echarts.init(document.getElementById('c'), null, { renderer: 'canvas' });
chart.setOption({
  animation: false,
  backgroundColor: '#ffffff',
  grid: [
    { left: 106, top: 37, width: 1156, height: 550, show: true, borderColor: '#ff0000', borderWidth: 3, backgroundColor: 'transparent', containLabel: false, outerBoundsMode: 'none' },
    { left: 106, top: 689, width: 1156, height: 541, show: true, borderColor: '#ff0000', borderWidth: 3, backgroundColor: 'transparent', containLabel: false, outerBoundsMode: 'none' }
  ],
  xAxis: [xAxisCfg(0), xAxisCfg(1)],
  yAxis: [
    yAxisCfg(0, TOP_MIN, TOP_MAX, topDecades, topDecadeLabels, 'DejaVu Sans', 18),
    yAxisCfg(1, BOT_MIN, BOT_MAX, bottomDecades, bottomDecadeLabels, 'Liberation Mono', 17)
  ],
  graphic: [
    { type: 'text', x: 112, y: 19, silent: true,
      style: { text: responseLabels.join(' '), font: '20px "Noto Sans"', fill: '#1a1a1a', verticalAlign: 'middle' } },
    { type: 'text', x: 112, y: 636, scaleX: 0.86, silent: true,
      style: { text: '@  110', font: '20px "Liberation Mono"', fill: BLUE_TXT, verticalAlign: 'middle' } },
    { type: 'text', x: 112, y: 1278, scaleX: 0.86, silent: true,
      style: { text: '@  110', font: '20px "Liberation Mono"', fill: BLUE_TXT, verticalAlign: 'middle' } },
    { type: 'text', x: 112, y: 672, scaleX: 0.81, silent: true,
      style: { text: '1 M odalPeaks Function U sing M agnitude', font: '19px "Liberation Mono"', fill: BLUE_TXT, verticalAlign: 'middle' } }
  ],
  series: series
});
</script>
</body></html>
